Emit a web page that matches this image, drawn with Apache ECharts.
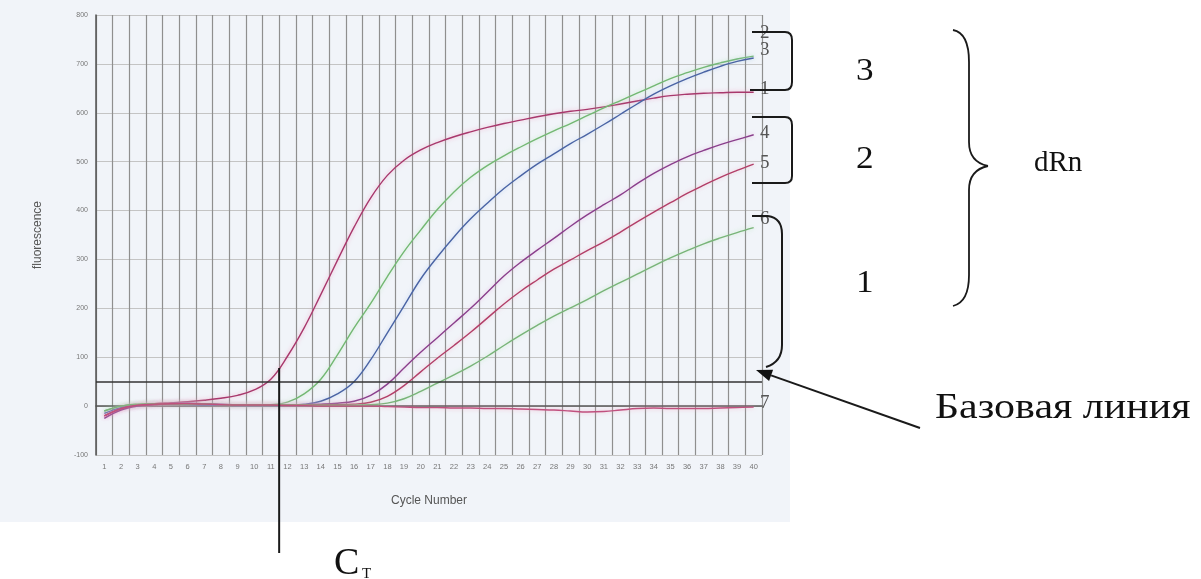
<!DOCTYPE html>
<html><head><meta charset="utf-8">
<script src="https://cdn.jsdelivr.net/npm/echarts@6/dist/echarts.min.js"></script>
<style>html,body{margin:0;padding:0;background:#fff}#c{width:1201px;height:579px}</style>
</head><body><div id="c"></div>
<script>
var cycles = [];
for (var i = 1; i <= 40; i++) cycles.push(String(i));
var yTicks = [-100, 0, 100, 200, 300, 400, 500, 600, 700, 800];
var threshold = 50;
var ctTopValue = 78;

var curve1 = [-20,-5,2,5,7,9,12,16,22,33,55,102,160,228,298,366,426,472,503,524,539,551,561,570,578,585,592,598,603,607,612,618,624,630,635,638,640,641,642,642];
var curve2 = [-10,0,3,5,5,5,4,3,2,2,3,8,25,55,105,160,210,265,316,360,402,438,468,492,512,530,547,563,578,594,610,625,640,655,670,682,693,702,710,716];
var curve3 = [-15,-3,2,4,4,3,2,2,1,1,1,2,4,10,25,50,95,150,205,260,305,346,383,415,445,471,495,516,537,556,576,597,618,638,655,670,683,695,705,712];
var curve4 = [-25,-8,0,3,5,6,5,4,3,3,3,3,3,4,6,10,22,45,78,110,140,170,200,233,266,294,319,343,368,391,412,432,455,476,494,510,523,535,545,555];
var curve5 = [-20,-5,2,3,4,4,4,3,3,3,3,3,3,3,3,4,8,20,42,70,98,124,151,180,209,235,258,280,299,318,336,356,377,397,416,435,452,468,482,495];
var curve6 = [-10,0,4,5,5,4,4,3,2,2,2,2,2,2,2,2,3,6,15,30,47,64,82,102,124,145,165,184,201,218,236,253,270,287,303,318,332,344,355,365];
var curve7 = [-20,-5,2,4,5,5,4,3,2,2,2,1,1,0,0,0,0,-1,-2,-3,-3,-4,-4,-5,-5,-6,-7,-8,-10,-12,-11,-8,-5,-4,-5,-5,-5,-4,-3,-2];

var curveNames = ['1','2','3','4','5','6','7'];
var curveData = [curve1, curve2, curve3, curve4, curve5, curve6, curve7];
var curveColors = ['#a8386c','#73b873','#4a64a4','#8a3f8c','#b23f68','#78b478','#c0507e'];
var curveHalo = ['rgba(245,150,190,0.7)','rgba(170,230,170,0.6)','rgba(160,190,240,0.6)','rgba(230,160,220,0.6)','rgba(245,160,190,0.6)','rgba(170,230,170,0.6)','rgba(245,160,190,0.7)'];

var chart = echarts.init(document.getElementById('c'), null, {renderer: 'canvas'});

var series = curveData.map(function (d, k) {
  return {
    name: curveNames[k], type: 'line', data: d, smooth: 0.4, showSymbol: false,
    lineStyle: {color: curveColors[k], width: 1.4, shadowColor: curveHalo[k], shadowBlur: 4},
    z: 3
  };
});
series[0].markLine = {
  silent: true, symbol: 'none', label: {show: false},
  lineStyle: {color: '#333', width: 1.6, type: 'solid'},
  data: [{yAxis: threshold}]
};

chart.setOption({
  backgroundColor: '#ffffff',
  animation: false,
  grid: {left: 96, top: 15, right: 439, bottom: 124, show: false},
  xAxis: {
    type: 'category', data: cycles, boundaryGap: true,
    name: 'Cycle Number', nameLocation: 'middle', nameGap: 40,
    nameTextStyle: {color: '#555', fontSize: 12, fontFamily: 'Liberation Sans'},
    axisLine: {lineStyle: {color: '#555', width: 1.5}},
    axisTick: {show: false},
    axisLabel: {color: '#777', fontSize: 7.5, fontFamily: 'Liberation Sans', margin: 8, interval: 0},
    splitLine: {show: true, interval: 0, lineStyle: {color: '#8f8f8f', width: 1.2}}
  },
  yAxis: {
    type: 'value', min: -100, max: 800, interval: 100,
    name: 'fluorescence', nameLocation: 'middle', nameGap: 52, nameRotate: 90,
    nameTextStyle: {color: '#555', fontSize: 12, fontFamily: 'Liberation Sans'},
    axisLine: {show: true, lineStyle: {color: '#555', width: 1.5}},
    axisTick: {show: false},
    axisLabel: {color: '#777', fontSize: 7, fontFamily: 'Liberation Sans', margin: 8,
      formatter: function (v) { return yTicks.indexOf(v) >= 0 ? String(v) : ''; }},
    splitLine: {show: true, lineStyle: {color: '#c4c4c4', width: 1}}
  },
  series: series
});

// annotations
var xCt = (chart.convertToPixel({xAxisIndex: 0}, cycles[10]) + chart.convertToPixel({xAxisIndex: 0}, cycles[11])) / 2;
var yCtTop = chart.convertToPixel({yAxisIndex: 0}, ctTopValue);

var ax0 = 920, ay0 = 428, ax1 = 756, ay1 = 370;
var dx = ax1 - ax0, dy = ay1 - ay0, L = Math.sqrt(dx*dx + dy*dy);
var ux = dx / L, uy = dy / L, px = -uy, py = ux;
var hl = 16, hw = 6;
var bx = ax1 - ux * hl, by = ay1 - uy * hl;

var G = [];
function ln(x1, y1, x2, y2, w) {
  G.push({type: 'line', z: 50, shape: {x1: x1, y1: y1, x2: x2, y2: y2}, style: {stroke: '#1a1a1a', lineWidth: w || 2}});
}
function qb(x1, y1, cx, cy, x2, y2, w) {
  G.push({type: 'bezierCurve', z: 50, shape: {x1: x1, y1: y1, x2: x2, y2: y2, cpx1: cx, cpy1: cy}, style: {stroke: '#1a1a1a', lineWidth: w || 2, fill: null}});
}
function txt(x, y, s, size, color, sx) {
  G.push({type: 'text', z: 50, x: x, y: y, scaleX: sx || 1, style: {text: s, fontSize: size, fontFamily: 'Liberation Serif', fill: color || '#111', textVerticalAlign: 'top'}});
}

G.push({type: 'rect', z: -100, silent: true, shape: {x: 0, y: 0, width: 790, height: 522}, style: {fill: '#f1f4f9'}});
ln(xCt, yCtTop, xCt, 553, 2);
txt(334, 545, 'C', 38);
txt(362, 567, 'T', 15);
// small end labels
txt(760, 24, '2', 19, '#555');
txt(760, 41, '3', 19, '#555');
txt(760, 80, '1', 19, '#555');
txt(760, 124, '4', 19, '#555');
txt(760, 154, '5', 19, '#555');
txt(760, 210, '6', 19, '#555');
txt(760, 394, '7', 19, '#555');
// bracket A
ln(752, 32, 785, 32); qb(785, 32, 792, 32, 792, 40); ln(792, 40, 792, 82); qb(792, 82, 792, 90, 785, 90); ln(785, 90, 750, 90);
// bracket B
ln(752, 117, 785, 117); qb(785, 117, 792, 117, 792, 125); ln(792, 125, 792, 176); qb(792, 176, 792, 183, 785, 183); ln(785, 183, 752, 183);
// bracket C
ln(752, 216, 768, 216); qb(768, 216, 782, 218, 782, 234); ln(782, 234, 782, 345); qb(782, 345, 782, 362, 766, 367);
// arrow
ln(ax0, ay0, bx, by, 2);
G.push({type: 'polygon', z: 50, shape: {points: [[ax1, ay1], [bx + px*hw, by + py*hw], [bx - px*hw, by - py*hw]]}, style: {fill: '#111'}});
// big labels
txt(856, 56, '3', 32, '#111', 1.1);
txt(856, 144, '2', 32, '#111', 1.1);
txt(856, 268, '1', 32, '#111', 1.1);
// curly brace
qb(953, 30, 969, 33, 969, 62, 1.8); ln(969, 62, 969, 142, 1.8); qb(969, 142, 969, 162, 988, 166, 1.8);
qb(988, 166, 969, 170, 969, 190, 1.8); ln(969, 190, 969, 275, 1.8); qb(969, 275, 969, 302, 953, 306, 1.8);
txt(1034, 149, 'dRn', 29);
txt(935, 391, 'Базовая линия', 35, '#111', 1.2);

chart.setOption({graphic: G});
</script></body></html>
